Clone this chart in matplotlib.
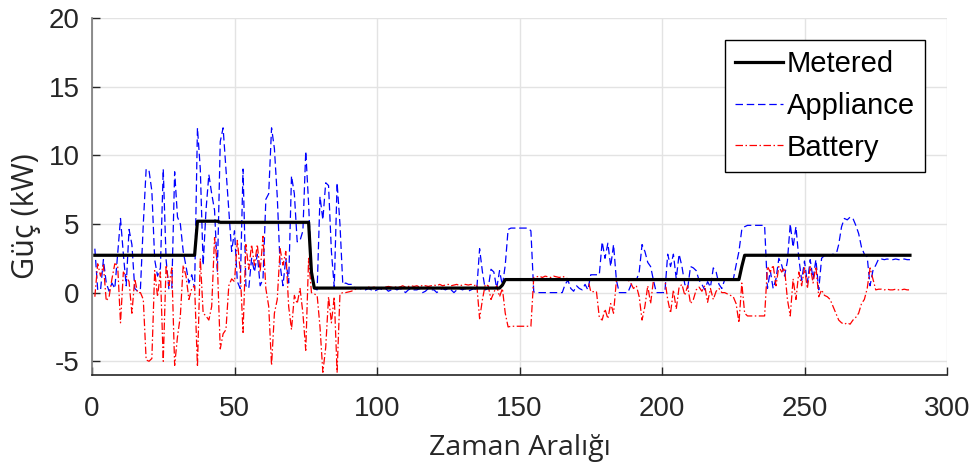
import numpy as np
import matplotlib
matplotlib.use("Agg")
import matplotlib.pyplot as plt

# ---------------- data ----------------
metered = [
    2.72, 2.72, 2.72, 2.72, 2.72, 2.72, 2.72, 2.72, 2.72, 2.72,
    2.72, 2.72, 2.72, 2.72, 2.72, 2.72, 2.72, 2.72, 2.72, 2.72,
    2.72, 2.72, 2.72, 2.72, 2.72, 2.72, 2.72, 2.72, 2.72, 2.72,
    2.72, 2.72, 2.72, 2.72, 2.72, 2.72, 5.2, 5.2, 5.2, 5.2,
    5.2, 5.2, 5.2, 5.2, 5.12, 5.12, 5.12, 5.12, 5.12, 5.12,
    5.12, 5.12, 5.12, 5.12, 5.12, 5.12, 5.12, 5.12, 5.12, 5.12,
    5.12, 5.12, 5.12, 5.12, 5.12, 5.12, 5.12, 5.12, 5.12, 5.12,
    5.12, 5.12, 5.12, 5.12, 5.12, 5.12, 1.5, 0.33, 0.33, 0.33,
    0.33, 0.33, 0.33, 0.33, 0.33, 0.33, 0.33, 0.33, 0.33, 0.33,
    0.33, 0.33, 0.33, 0.33, 0.33, 0.33, 0.33, 0.33, 0.33, 0.33,
    0.33, 0.33, 0.33, 0.33, 0.33, 0.33, 0.33, 0.33, 0.33, 0.33,
    0.33, 0.33, 0.33, 0.33, 0.33, 0.33, 0.33, 0.33, 0.33, 0.33,
    0.33, 0.33, 0.33, 0.33, 0.33, 0.33, 0.33, 0.33, 0.33, 0.33,
    0.33, 0.33, 0.33, 0.33, 0.33, 0.33, 0.33, 0.33, 0.33, 0.33,
    0.33, 0.33, 0.33, 0.55, 0.95, 0.95, 0.95, 0.95, 0.95, 0.95,
    0.95, 0.95, 0.95, 0.95, 0.95, 0.95, 0.95, 0.95, 0.95, 0.95,
    0.95, 0.95, 0.95, 0.95, 0.95, 0.95, 0.95, 0.95, 0.95, 0.95,
    0.95, 0.95, 0.95, 0.95, 0.95, 0.95, 0.95, 0.95, 0.95, 0.95,
    0.95, 0.95, 0.95, 0.95, 0.95, 0.95, 0.95, 0.95, 0.95, 0.95,
    0.95, 0.95, 0.95, 0.95, 0.95, 0.95, 0.95, 0.95, 0.95, 0.95,
    0.95, 0.95, 0.95, 0.95, 0.95, 0.95, 0.95, 0.95, 0.95, 0.95,
    0.95, 0.95, 0.95, 0.95, 0.95, 0.95, 0.95, 0.95, 0.95, 0.95,
    0.95, 0.95, 0.95, 0.95, 0.95, 0.95, 0.95, 1.9, 2.72, 2.72,
    2.72, 2.72, 2.72, 2.72, 2.72, 2.72, 2.72, 2.72, 2.72, 2.72,
    2.72, 2.72, 2.72, 2.72, 2.72, 2.72, 2.72, 2.72, 2.72, 2.72,
    2.72, 2.72, 2.72, 2.72, 2.72, 2.72, 2.72, 2.72, 2.72, 2.72,
    2.72, 2.72, 2.72, 2.72, 2.72, 2.72, 2.72, 2.72, 2.72, 2.72,
    2.72, 2.72, 2.72, 2.72, 2.72, 2.72, 2.72, 2.72, 2.72, 2.72,
    2.72, 2.72, 2.72, 2.72, 2.72, 2.72, 2.72,
]

appliance = [
    3.2, 0.2, 0.2, 2.4, 0.7, 0.1, 0.7, 0.3, 2.8, 5.4,
    2.8, 0.5, 4.6, 3.5, 0.3, 0.1, 0.3, 5.0, 9.0, 8.9,
    7.4, 2.4, 1.2, 1.8, 9.0, 2.4, 0.2, 0.3, 8.8, 5.5,
    5.0, 3.0, 1.9, 0.7, 1.3, 0.3, 12.0, 9.0, 2.0, 6.0,
    8.6, 7.2, 6.0, 1.5, 11.0, 12.0, 9.0, 6.0, 3.0, 4.5,
    0.8, 0.3, 9.0, 0.5, 0.3, 2.5, 1.5, 2.8, 0.5, 1.0,
    6.8, 7.2, 12.0, 10.5, 7.0, 2.0, 0.5, 2.5, 0.7, 8.5,
    7.2, 3.7, 3.8, 4.5, 10.3, 6.5, 1.5, 0.3, 0.2, 7.0,
    5.3, 8.0, 7.8, 3.0, 0.4, 8.0, 5.0, 0.6, 0.7, 0.6,
    0.6, 0.4, 0.3, 0.3, 0.2, 0.2, 0.3, 0.2, 0.1, 0.2,
    0.3, 0.2, 0.3, 0.1, 0.2, 0.3, 0.2, 0.3, 0.2, 0.0,
    0.2, 0.3, 0.2, 0.2, 0.3, 0.0, 0.1, 0.3, 0.2, 0.2,
    0.0, 0.2, 0.3, 0.2, 0.3, 0.2, 0.0, 0.2, 0.3, 0.2,
    0.3, 0.1, 0.2, 0.3, 0.2, 3.2, 1.5, 0.2, 0.3, 1.7,
    1.5, 0.3, 1.6, 0.5, 2.0, 4.6, 4.7, 4.7, 4.7, 4.7,
    4.7, 4.7, 4.7, 4.5, 0.05, 0.0, 0.0, 0.0, 0.0, 0.0,
    0.0, 0.0, 0.0, 0.0, 0.0, 0.6, 0.9, 0.3, 0.1, 0.5,
    0.3, 0.2, 0.6, 0.2, 1.3, 1.3, 1.3, 1.3, 3.7, 2.5,
    3.6, 1.9, 3.5, 0.9, 0.0, 0.0, 0.0, 0.0, 0.5, 0.9,
    0.9, 1.5, 3.5, 3.0, 2.2, 1.9, 0.9, 0.0, 0.0, 0.0,
    0.0, 2.8, 1.9, 2.8, 1.0, 2.8, 1.9, 0.6, 0.3, 1.9,
    1.8, 1.6, 0.9, 0.6, 0.2, 0.8, 0.4, 1.8, 1.5, 0.6,
    0.3, 0.95, 0.95, 0.95, 0.95, 2.0, 3.0, 4.6, 4.8, 4.9,
    4.9, 4.9, 4.9, 4.9, 4.9, 4.9, 0.3, 1.6, 0.3, 1.0,
    2.5, 2.0, 1.2, 2.3, 5.0, 3.3, 4.8, 2.5, 0.9, 2.3,
    0.7, 2.4, 1.0, 2.4, 0.2, 2.5, 2.7, 2.7, 2.7, 2.8,
    2.7, 3.5, 4.8, 5.4, 5.3, 5.5, 5.4, 4.9, 4.3, 3.3,
    2.8, 2.6, 0.5, 1.6, 2.0, 2.45, 2.45, 2.4, 2.45, 2.4,
    2.4, 2.45, 2.4, 2.4, 2.45, 2.4, 2.4,
]

battery = [
    -0.3, 2.1, 1.2, 2.0, -0.6, -0.3, 1.0, 2.1, 2.0, -2.2,
    1.5, 1.2, 0.8, -1.5, 1.0, 0.0, 0.0, -0.5, -4.9, -5.0,
    -4.8, 1.6, -0.3, 1.5, -5.0, 2.0, 0.5, 1.8, -5.3, -3.2,
    -1.7, 2.0, 1.2, -0.5, 0.3, 0.5, -5.4, 2.5, -1.5, -1.7,
    -2.0, -1.0, 4.0, 2.0, -4.1, -3.0, -2.7, 0.5, 1.0, 0.8,
    3.8, 1.6, -2.9, 3.5, 1.7, 3.5, 2.0, 3.5, 1.5, 4.1,
    0.3, -1.0, -5.3, -1.5, -0.5, 3.2, 2.0, 3.0, -1.0, -2.7,
    -0.2, -0.8, 0.3, -1.5, -4.2, 2.5, 0.0, -0.1, -0.2, -2.5,
    -5.8, -4.0, -0.3, -2.2, -0.3, -5.8, -0.1, 0.0, 0.0, 0.05,
    0.1, 0.2, 0.3, 0.35, 0.3, 0.35, 0.4, 0.35, 0.4, 0.3,
    0.4, 0.35, 0.4, 0.45, 0.4, 0.35, 0.45, 0.4, 0.5, 0.4,
    0.45, 0.5, 0.45, 0.5, 0.4, 0.55, 0.5, 0.45, 0.5, 0.55,
    0.5, 0.6, 0.5, 0.55, 0.6, 0.5, 0.55, 0.6, 0.5, 0.55,
    0.6, 0.55, 0.6, 0.5, 0.6, -1.9, -0.5, 0.6, 0.5, -0.5,
    0.0, 0.5, -0.3, 0.3, -1.5, -2.5, -2.45, -2.45, -2.45, -2.45,
    -2.45, -2.45, -2.45, -2.45, 1.1, 1.15, 1.2, 1.1, 1.2, 1.15,
    1.1, 1.2, 1.15, 1.1, 1.2, 1.1, 1.0, 0.9, 1.0, 0.95,
    0.9, 1.0, 0.9, 1.0, 0.07, 0.07, 0.07, -1.8, -2.0, -1.2,
    -1.9, -0.8, -1.5, 0.9, 0.95, 0.95, 0.9, 0.95, 0.7, 0.3,
    0.5, -0.3, -2.0, -1.0, 0.5, -0.8, 0.9, 0.95, 0.95, 0.95,
    0.95, -0.5, -1.5, 0.2, -1.2, 0.4, 0.6, -0.2, 0.5, -0.8,
    -0.5, 0.2, 0.4, 0.1, 0.5, -0.7, 0.3, -0.5, 0.1, 0.3,
    0.0, 0.0, -0.1, -0.2, -0.3, -0.8, -2.2, 0.7, -1.5, -1.7,
    -1.7, -1.7, -1.7, -1.7, -1.7, -1.7, 1.9, 1.5, 2.0, 0.5,
    1.9, 1.5, 1.8, -0.5, -1.7, 1.0, -0.5, 1.5, 0.5, 1.8,
    0.3, 1.9, 0.7, 1.9, -0.3, 0.2, -0.2, -0.3, -0.5, -1.0,
    -1.5, -2.0, -2.2, -2.3, -2.2, -2.3, -2.0, -1.8, -1.5, -0.8,
    -0.5, 0.3, 1.8, 1.0, 0.2, 0.25, 0.25, 0.2, 0.25, 0.2,
    0.2, 0.25, 0.2, 0.2, 0.25, 0.2, 0.2,
]

series_names = ["Metered", "Appliance", "Battery"]
x_ticks = [0, 50, 100, 150, 200, 250, 300]
y_ticks = [-5, 0, 5, 10, 15, 20]
y_tick_labels = ["-5", "0", "5", "10", "15", "20"]
x_label = "Zaman Aralığı"
y_label = "Güç (kW)"

# ---------------- figure ----------------
W, H = 972, 465
L, R, T, B = 92, 947, 18, 375
fig = plt.figure(figsize=(W / 100, H / 100), dpi=100)
ax = fig.add_axes([L / W, 1 - B / H, (R - L) / W, (B - T) / H])

t = np.arange(1, len(metered) + 1)
ax.plot(t, metered, color="black", lw=2.3, label=series_names[0], zorder=4)
ax.plot(t, appliance, color="#0000ff", lw=0.9, ls=(0, (6, 3)),
        label=series_names[1], zorder=2)
ax.plot(t, battery, color="#ff0000", lw=0.9, ls=(0, (6, 2, 1.2, 2)),
        label=series_names[2], zorder=3)

ax.set_xlim(0, 300)
ax.set_ylim(-6, 20)
ax.set_xticks(x_ticks)
ax.set_yticks(y_ticks)
ax.set_yticklabels(y_tick_labels)

for lab in ax.get_xticklabels() + ax.get_yticklabels():
    lab.set_fontfamily(["Liberation Sans", "DejaVu Sans"])
    lab.set_fontsize(20)
    lab.set_color("#262626")

ax.tick_params(axis="x", direction="in", length=6, width=1, pad=15, colors="#262626")
ax.tick_params(axis="y", direction="in", length=6, width=1, pad=9, colors="#262626")

ax.grid(True, color="#e3e3e3", lw=1.0)
ax.set_axisbelow(True)
for s in ["top", "right"]:
    ax.spines[s].set_visible(False)
ax.spines["left"].set_color("#7a7a7a")
ax.spines["left"].set_linewidth(1.2)
ax.spines["bottom"].set_color("#262626")
ax.spines["bottom"].set_linewidth(1.2)

label_font = ["Open Sans", "DejaVu Sans"]
ax.set_xlabel(x_label, fontsize=20.5, family=label_font, color="#262626")
ax.set_ylabel(y_label, fontsize=22, family=label_font, color="#262626")
ax.xaxis.set_label_coords((520 - L) / (R - L), (B - 448) / (B - T))
ax.yaxis.set_label_coords((26 - L) / (R - L), (B - 216) / (B - T))
ax.xaxis.label.set_va("center")
ax.yaxis.label.set_va("center")

leg = ax.legend(loc="upper right",
                bbox_to_anchor=((925 - L) / (R - L), (B - 40) / (B - T)),
                prop={"family": "Liberation Sans", "size": 21},
                frameon=True, fancybox=False, framealpha=1, edgecolor="black",
                handlelength=1.65, handletextpad=0.12, labelspacing=0.47,
                borderpad=0.35, borderaxespad=0)
leg.get_frame().set_linewidth(1.0)

fig.savefig("out.png", dpi=100)
